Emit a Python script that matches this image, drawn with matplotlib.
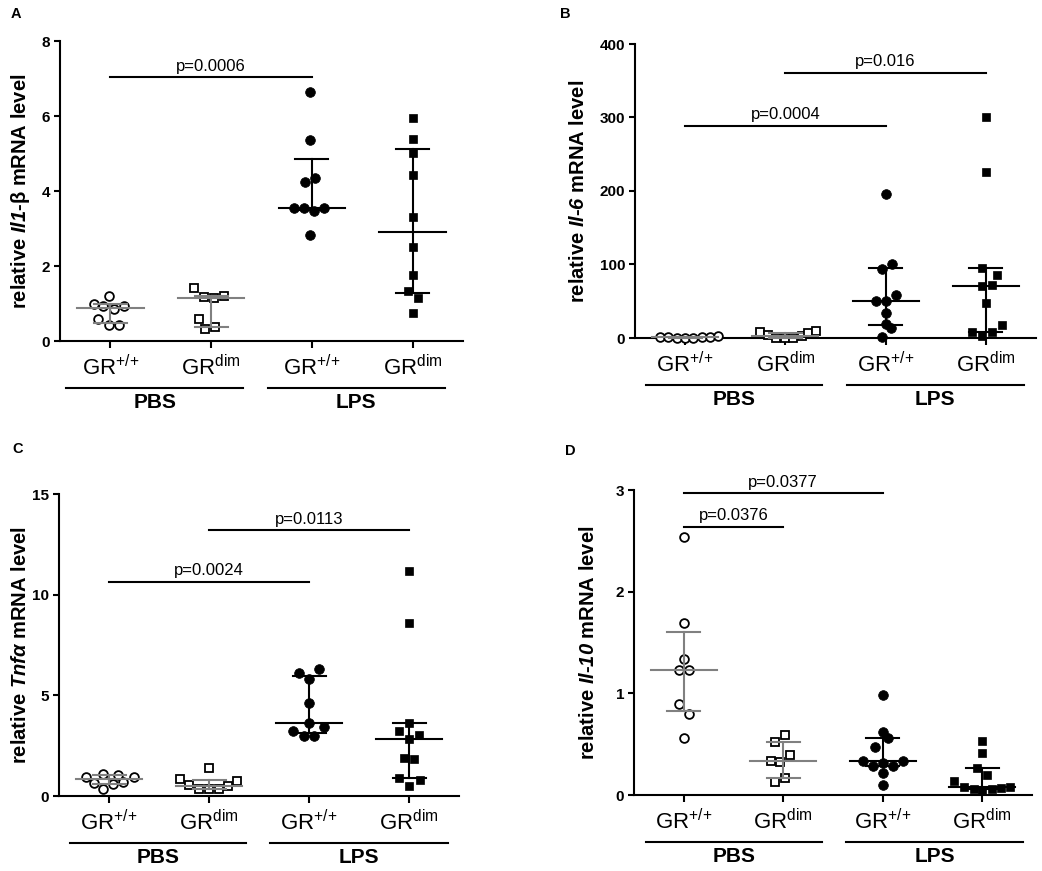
import numpy as np
import matplotlib
matplotlib.use("Agg")
import matplotlib.pyplot as plt
from matplotlib.transforms import offset_copy

plt.rcParams['font.family'] = ['Liberation Sans', 'DejaVu Sans']
plt.rcParams['mathtext.fontset'] = 'custom'
plt.rcParams['mathtext.rm'] = 'Liberation Sans:italic:bold'
plt.rcParams['mathtext.it'] = 'Liberation Sans:italic:bold'
plt.rcParams['mathtext.bf'] = 'Liberation Sans:bold'
plt.rcParams['mathtext.sf'] = 'Liberation Sans'

# ---------------- data ----------------
group_labels = [r"GR$^{\mathsf{{+}/{+}}}$", r"GR$^{\mathsf{dim}}$",
                r"GR$^{\mathsf{{+}/{+}}}$", r"GR$^{\mathsf{dim}}$"]
treatments = ["PBS", "LPS"]

# Panel A: Il1-beta
A_pbs_wt = [1.19, 0.99, 0.93, 0.85, 0.93, 0.60, 0.42, 0.44]
A_pbs_dim = [1.42, 1.17, 1.15, 1.21, 0.60, 0.31, 0.37]
A_lps_wt = [6.65, 5.36, 4.25, 4.36, 3.56, 3.54, 3.47, 3.56, 2.84]
A_lps_dim = [5.94, 5.40, 5.02, 4.43, 3.32, 2.52, 1.76, 1.33, 1.14, 0.74]
# horizontal scatter offsets of the points (category units)
A_pbs_wt_dx = [-0.01, -0.16, -0.07, 0.04, 0.14, -0.12, -0.01, 0.09]
A_pbs_dim_dx = [-0.17, -0.07, 0.03, 0.13, -0.12, -0.06, 0.04]
A_lps_wt_dx = [-0.02, -0.02, -0.07, 0.03, -0.18, -0.08, 0.02, 0.12, -0.02]
A_lps_dim_dx = [0, 0, 0, 0, 0, 0, 0, -0.05, 0.05, 0]

# Panel B: Il-6
B_pbs_wt = [1.5, 0.8, 0.3, 0.2, 0.4, 0.8, 1.2, 3.0]
B_pbs_dim = [7.7, 4.5, 0.3, 0.2, 0.4, 2.3, 6.8, 9.1]
B_lps_wt = [196, 100.7, 93.9, 58, 50.3, 50.3, 33.6, 19, 13, 1.8]
B_lps_dim = [300, 226, 95, 86, 71, 72.6, 47.6, 18, 8, 3, 7.7]
B_pbs_wt_dx = [-0.25, -0.17, -0.08, 0, 0.08, 0.17, 0.25, 0.33]
B_pbs_dim_dx = [-0.25, -0.17, -0.09, 0, 0.08, 0.17, 0.23, 0.31]
B_lps_wt_dx = [0, 0.06, -0.04, 0.1, -0.1, 0, 0, 0, 0.05, -0.04]
B_lps_dim_dx = [0, 0, -0.04, 0.11, -0.04, 0.06, 0, 0.16, -0.14, -0.04, 0.06]

# Panel C: Tnfa
C_pbs_wt = [0.92, 0.65, 1.08, 0.34, 0.60, 1.05, 0.72, 0.96]
C_pbs_dim = [0.83, 0.55, 0.36, 1.40, 0.33, 0.35, 0.48, 0.76]
C_lps_wt = [6.33, 6.09, 5.8, 4.6, 3.64, 3.23, 3.0, 3.0, 3.41]
C_lps_dim = [11.18, 8.58, 3.61, 3.23, 3.03, 2.83, 1.87, 1.84, 0.91, 0.80, 0.50]
C_pbs_wt_dx = [-0.23, -0.15, -0.06, -0.06, 0.04, 0.09, 0.14, 0.25]
C_pbs_dim_dx = [-0.29, -0.2, -0.1, 0, 0, 0.1, 0.19, 0.28]
C_lps_wt_dx = [0.1, -0.1, 0, 0, 0, -0.16, -0.05, 0.05, 0.15]
C_lps_dim_dx = [0, 0, 0, -0.1, 0.1, 0, -0.05, 0.05, -0.1, 0.11, 0]

# Panel D: Il-10
D_pbs_wt = [2.54, 1.69, 1.34, 1.23, 1.23, 0.90, 0.80, 0.56]
D_pbs_dim = [0.59, 0.52, 0.39, 0.33, 0.32, 0.17, 0.13]
D_lps_wt = [0.98, 0.62, 0.56, 0.47, 0.33, 0.29, 0.31, 0.29, 0.33, 0.22, 0.095]
D_lps_dim = [0.53, 0.41, 0.27, 0.20, 0.14, 0.076, 0.059, 0.05, 0.059, 0.069, 0.082]
D_pbs_wt_dx = [0, 0, 0, -0.05, 0.05, -0.05, 0.05, 0]
D_pbs_dim_dx = [0.02, -0.08, 0.07, -0.12, -0.03, 0.02, -0.08]
D_lps_wt_dx = [0, 0, 0.05, -0.08, -0.2, -0.1, 0, 0.1, 0.2, 0, 0]
D_lps_dim_dx = [0, 0, -0.05, 0.05, -0.28, -0.18, -0.08, 0, 0.1, 0.19, 0.28]

# significance annotations: (from group, to group, bar height, text)
A_sig = [(0, 2, 7.03, "p=0.0006")]
B_sig = [(0, 2, 289, "p=0.0004"), (1, 3, 361, "p=0.016")]
C_sig = [(0, 2, 10.65, "p=0.0024"), (1, 3, 13.21, "p=0.0113")]
D_sig = [(0, 1, 2.64, "p=0.0376"), (0, 2, 2.97, "p=0.0377")]

A_ylabel = r"relative $\mathit{Il1}$-β mRNA level"
B_ylabel = r"relative $\mathit{Il}$-$\mathit{6}$ mRNA level"
C_ylabel = r"relative $\mathit{Tnfα}$ mRNA level"
D_ylabel = r"relative $\mathit{Il}$-$\mathit{10}$ mRNA level"

A_yticks = [0, 2, 4, 6, 8]
B_yticks = [0, 100, 200, 300, 400]
C_yticks = [0, 5, 10, 15]
D_yticks = [0, 1, 2, 3]

# ---------------- figure ----------------
W, H = 1042, 871
fig = plt.figure(figsize=(W / 100, H / 100), dpi=100)

GRAY = '#808080'

def rect(l, r, t, b):
    return [l / W, 1 - b / H, (r - l) / W, (b - t) / H]

panels = [
    dict(letter="A", rect=rect(60, 463, 41, 341), letter_xy=(11, 18),
         groups=[A_pbs_wt, A_pbs_dim, A_lps_wt, A_lps_dim],
         dxs=[A_pbs_wt_dx, A_pbs_dim_dx, A_lps_wt_dx, A_lps_dim_dx],
         sig=A_sig, ylabel=A_ylabel, yticks=A_yticks, ylab_px=-39,
         brk=[(-0.44, 1.32), (1.56, 3.32)]),
    dict(letter="B", rect=rect(635, 1036, 44, 338), letter_xy=(560, 18),
         groups=[B_pbs_wt, B_pbs_dim, B_lps_wt, B_lps_dim],
         dxs=[B_pbs_wt_dx, B_pbs_dim_dx, B_lps_wt_dx, B_lps_dim_dx],
         sig=B_sig, ylabel=B_ylabel, yticks=B_yticks, ylab_px=-56,
         brk=[(-0.39, 1.37), (1.61, 3.38)]),
    dict(letter="C", rect=rect(59, 459, 494, 796), letter_xy=(12, 453),
         groups=[C_pbs_wt, C_pbs_dim, C_lps_wt, C_lps_dim],
         dxs=[C_pbs_wt_dx, C_pbs_dim_dx, C_lps_wt_dx, C_lps_dim_dx],
         sig=C_sig, ylabel=C_ylabel, yticks=C_yticks, ylab_px=-38,
         brk=[(-0.39, 1.37), (1.61, 3.39)]),
    dict(letter="D", rect=rect(634, 1032, 490, 795), letter_xy=(565, 455),
         groups=[D_pbs_wt, D_pbs_dim, D_lps_wt, D_lps_dim],
         dxs=[D_pbs_wt_dx, D_pbs_dim_dx, D_lps_wt_dx, D_lps_dim_dx],
         sig=D_sig, ylabel=D_ylabel, yticks=D_yticks, ylab_px=-46,
         brk=[(-0.38, 1.39), (1.63, 3.41)]),
]

marker_style = [
    dict(marker='o', ms=6.3, mfc='white', mec='black', mew=1.3),
    dict(marker='s', ms=5.8, mfc='white', mec='black', mew=1.3),
    dict(marker='o', ms=7.0, mfc='black', mec='black', mew=0.5),
    dict(marker='s', ms=6.2, mfc='black', mec='black', mew=0.5),
]
line_colors = [GRAY, GRAY, 'black', 'black']

for p in panels:
    ax = fig.add_axes(p['rect'])
    ax_w_px = p['rect'][2] * W
    for i, (vals, dx) in enumerate(zip(p['groups'], p['dxs'])):
        vals = np.asarray(vals, float)
        x = i + np.asarray(dx, float)
        ax.plot(x, vals, ls='none', clip_on=False, zorder=3, **marker_style[i])
        q1, med, q3 = np.percentile(vals, [25, 50, 75], method='weibull')
        c = line_colors[i]
        ax.plot([i, i], [q1, q3], color=c, lw=1.5, zorder=4, clip_on=False)
        ax.plot([i - 0.33, i + 0.33], [med, med], color=c, lw=1.5, zorder=4, clip_on=False)
        for q in (q1, q3):
            ax.plot([i - 0.165, i + 0.165], [q, q], color=c, lw=1.5, zorder=4, clip_on=False)
    for g0, g1, yb, txt in p['sig']:
        ax.plot([g0, g1], [yb, yb], color='black', lw=1.5, clip_on=False)
        ax.annotate(txt, xy=((g0 + g1) / 2, yb), xytext=(0, 2.5), textcoords='offset points',
                    ha='center', va='bottom', fontsize=12, annotation_clip=False)
    ax.set_xlim(-0.5, 3.5)
    ax.set_ylim(p['yticks'][0], p['yticks'][-1])
    ax.set_yticks(p['yticks'])
    ax.set_xticks(range(4))
    ax.set_xticklabels(group_labels, fontsize=16)
    for lab in ax.get_yticklabels():
        lab.set_fontweight('bold')
        lab.set_fontsize(11)
    ax.tick_params(axis='y', length=4, width=1.5, pad=3)
    ax.tick_params(axis='x', length=5, width=1.5, pad=5)
    for s in ('top', 'right'):
        ax.spines[s].set_visible(False)
    for s in ('left', 'bottom'):
        ax.spines[s].set_linewidth(1.5)
    ax.set_ylabel(p['ylabel'], fontsize=14.5, fontweight='bold', va='center')
    ax.yaxis.set_label_coords(p['ylab_px'] / ax_w_px, 0.5)
    # treatment group brackets
    line_tr = offset_copy(ax.get_xaxis_transform(), fig=fig, x=0, y=-47, units='dots')
    text_tr = offset_copy(ax.get_xaxis_transform(), fig=fig, x=0, y=-52, units='dots')
    for (x0, x1), name in zip(p['brk'], treatments):
        ax.plot([x0, x1], [0, 0], transform=line_tr, color='black', lw=1.5, clip_on=False)
        ax.text((x0 + x1) / 2, 0, name, transform=text_tr, ha='center', va='top',
                fontsize=15, fontweight='bold')
    fig.text(p['letter_xy'][0] / W, 1 - p['letter_xy'][1] / H, p['letter'],
             fontsize=10.5, fontweight='bold', ha='left', va='baseline')

fig.savefig('out.png', dpi=100)
